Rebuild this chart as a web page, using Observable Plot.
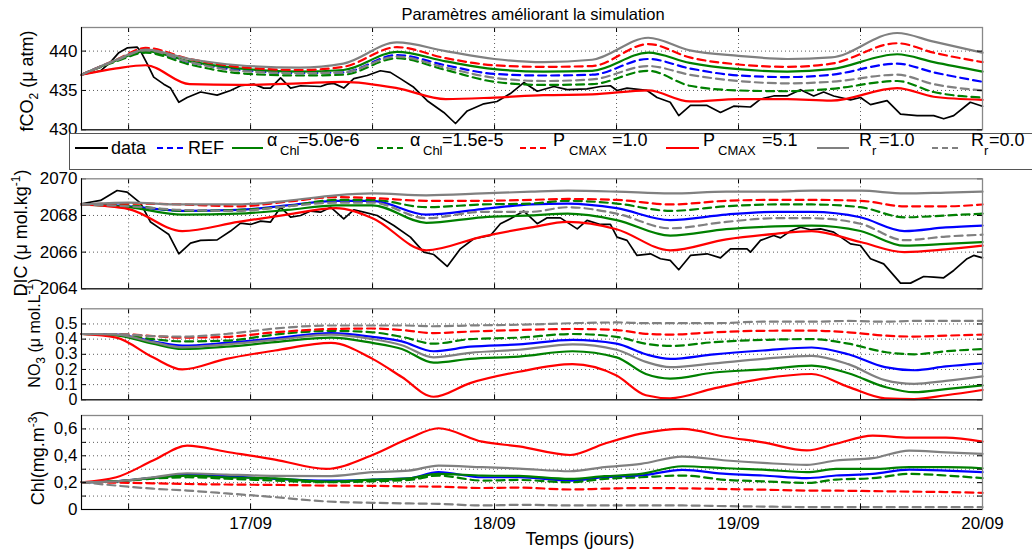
<!DOCTYPE html>
<html><head><meta charset="utf-8">
<script src="https://cdn.jsdelivr.net/npm/d3@7"></script>
<script src="https://cdn.jsdelivr.net/npm/@observablehq/plot@0.6"></script>
<style>
html,body{margin:0;padding:0;background:#fff;}
#chart{position:relative;width:1032px;height:552px;overflow:hidden;background:#fff;}
#chart svg{position:absolute;left:0;top:0;}
</style></head><body><div id="chart"></div>
<script>
// ---------- texts ----------
const titleText = "Paramètres améliorant la simulation";
const xTitle = "Temps (jours)";
const dayTicks = [17, 18, 19, 20];
const dayLabels = ["17/09", "18/09", "19/09", "20/09"];
const halfDays = [16.5, 17, 17.5, 18, 18.5, 19, 19.5];

// ---------- fCO2 panel ----------
const fco2Time = [16.307, 16.45, 16.57, 16.75, 16.95, 17.2, 17.38, 17.6, 17.8, 18.0, 18.2, 18.4, 18.63, 18.8, 19.0, 19.2, 19.38, 19.65, 19.8, 20.0];
const fco2REF   = [437.0, 438.8, 439.9, 438.6, 437.6, 437.2, 437.3, 439.5, 438.2, 437.1, 436.9, 437.0, 439.0, 437.8, 436.9, 436.7, 437.0, 438.4, 437.3, 436.1];
const fco2Chl5  = [437.0, 438.8, 440.0, 438.7, 437.8, 437.4, 437.6, 439.9, 438.7, 437.7, 437.4, 437.5, 439.8, 438.5, 437.7, 437.4, 437.7, 439.6, 438.6, 437.4];
const fco2Chl15 = [437.0, 438.7, 439.8, 438.3, 437.2, 436.9, 437.0, 439.1, 437.6, 436.1, 435.7, 435.8, 437.5, 435.6, 435.0, 434.9, 435.2, 436.2, 434.8, 434.1];
const fco2Pc1   = [437.0, 438.9, 440.4, 439.0, 438.0, 437.6, 438.0, 440.5, 439.1, 438.2, 438.0, 438.1, 440.9, 439.2, 438.3, 438.0, 438.4, 441.0, 439.8, 438.6];
const fco2Pc51  = [437.0, 437.8, 438.2, 435.8, 435.7, 435.9, 436.1, 435.3, 433.9, 434.1, 434.4, 434.5, 435.0, 433.6, 433.9, 433.9, 433.7, 435.3, 434.2, 433.8];
const fco2Rr1   = [437.0, 438.9, 440.2, 439.0, 438.2, 437.9, 438.4, 441.1, 440.0, 439.0, 438.6, 438.9, 441.7, 440.1, 439.4, 439.0, 439.2, 442.3, 441.2, 439.8];
const fco2Rr0   = [437.0, 438.8, 440.1, 438.6, 437.5, 437.2, 437.3, 439.3, 437.9, 436.6, 436.2, 436.4, 438.1, 437.0, 436.2, 435.9, 436.1, 437.0, 435.8, 435.0];
const fco2DataTime = [16.307, 16.385, 16.426, 16.46, 16.494, 16.535, 16.549, 16.576, 16.603, 16.644, 16.672, 16.706, 16.74, 16.795, 16.863, 16.918, 16.959, 17.013, 17.054, 17.082, 17.123, 17.164, 17.205, 17.287, 17.314, 17.341, 17.382, 17.423, 17.478, 17.532, 17.573, 17.614, 17.669, 17.724, 17.792, 17.84, 17.888, 17.956, 18.01, 18.065, 18.12, 18.175, 18.243, 18.298, 18.379, 18.434, 18.475, 18.502, 18.543, 18.625, 18.666, 18.72, 18.755, 18.803, 18.871, 18.926, 18.98, 19.049, 19.09, 19.144, 19.199, 19.254, 19.308, 19.349, 19.39, 19.459, 19.5, 19.541, 19.609, 19.664, 19.732, 19.8, 19.841, 19.882, 19.95, 20.0];
const fco2Data = [437.0, 437.5, 438.6, 439.8, 440.4, 440.5, 440.0, 438.4, 436.7, 435.8, 435.3, 433.5, 434.1, 434.8, 434.4, 435.0, 435.6, 435.8, 435.3, 435.3, 436.6, 435.3, 435.6, 435.5, 435.8, 435.9, 435.3, 436.5, 436.9, 437.5, 437.3, 436.5, 435.4, 433.7, 432.2, 430.8, 432.4, 433.3, 433.6, 434.6, 436.0, 434.9, 435.5, 435.1, 435.2, 435.5, 435.6, 435.0, 435.3, 435.0, 434.1, 433.5, 431.8, 433.1, 433.1, 432.2, 433.0, 432.9, 433.9, 434.3, 434.3, 435.1, 434.3, 434.8, 434.3, 433.8, 434.1, 433.2, 433.7, 432.0, 431.8, 431.8, 431.4, 431.8, 433.5, 433.0];

// ---------- DIC panel ----------
const dicTime = [16.307, 16.5, 16.72, 16.95, 17.15, 17.35, 17.5, 17.72, 17.95, 18.15, 18.3, 18.5, 18.72, 18.95, 19.15, 19.3, 19.5, 19.68, 19.85, 20.0];
const dicREF   = [2068.6, 2068.5, 2068.25, 2068.3, 2068.55, 2068.8, 2068.8, 2068.05, 2068.35, 2068.6, 2068.65, 2068.4, 2067.75, 2068.05, 2068.2, 2068.2, 2067.9, 2067.15, 2067.35, 2067.45];
const dicChl5  = [2068.6, 2068.45, 2068.05, 2068.1, 2068.3, 2068.55, 2068.55, 2067.6, 2067.9, 2068.0, 2068.1, 2067.75, 2066.9, 2067.25, 2067.4, 2067.45, 2067.15, 2066.35, 2066.45, 2066.55];
const dicChl15 = [2068.6, 2068.55, 2068.25, 2068.3, 2068.5, 2068.85, 2068.85, 2068.45, 2068.6, 2068.65, 2068.8, 2068.65, 2068.25, 2068.5, 2068.6, 2068.6, 2068.45, 2067.9, 2068.0, 2068.1];
const dicPc1   = [2068.6, 2068.65, 2068.6, 2068.5, 2068.75, 2069.0, 2068.95, 2068.8, 2068.8, 2068.85, 2068.9, 2068.85, 2068.6, 2068.8, 2068.85, 2068.85, 2068.8, 2068.5, 2068.5, 2068.6];
const dicPc51  = [2068.6, 2068.35, 2067.15, 2067.65, 2068.05, 2068.4, 2067.85, 2066.1, 2066.85, 2067.35, 2067.65, 2067.25, 2066.1, 2066.7, 2067.0, 2067.15, 2066.55, 2066.0, 2066.15, 2066.35];
const dicRr1   = [2068.6, 2068.7, 2068.6, 2068.6, 2068.8, 2069.1, 2069.2, 2069.1, 2069.2, 2069.3, 2069.35, 2069.3, 2069.2, 2069.3, 2069.3, 2069.35, 2069.35, 2069.2, 2069.25, 2069.3];
const dicRr0   = [2068.6, 2068.5, 2068.3, 2068.25, 2068.5, 2068.7, 2068.7, 2067.85, 2068.2, 2068.2, 2068.45, 2068.1, 2067.3, 2067.65, 2067.85, 2067.85, 2067.55, 2066.65, 2066.85, 2066.95];
const dicDataTime = [16.307, 16.385, 16.453, 16.494, 16.549, 16.59, 16.631, 16.665, 16.706, 16.754, 16.795, 16.863, 16.918, 16.959, 17.0, 17.041, 17.082, 17.123, 17.164, 17.205, 17.246, 17.287, 17.328, 17.382, 17.423, 17.464, 17.519, 17.587, 17.655, 17.71, 17.751, 17.806, 17.86, 17.915, 17.983, 18.024, 18.065, 18.12, 18.175, 18.216, 18.27, 18.339, 18.379, 18.434, 18.475, 18.502, 18.543, 18.584, 18.639, 18.68, 18.72, 18.755, 18.803, 18.871, 18.926, 18.967, 19.035, 19.049, 19.09, 19.144, 19.172, 19.213, 19.254, 19.295, 19.336, 19.39, 19.459, 19.5, 19.541, 19.595, 19.664, 19.705, 19.759, 19.8, 19.841, 19.882, 19.937, 19.964, 20.0];
const dicData = [2068.64, 2068.82, 2069.36, 2069.27, 2068.67, 2067.64, 2067.27, 2066.96, 2065.91, 2066.49, 2066.64, 2066.67, 2067.15, 2067.58, 2067.51, 2067.69, 2067.64, 2068.45, 2067.91, 2068.0, 2068.24, 2068.18, 2068.45, 2067.82, 2068.31, 2068.18, 2068.0, 2067.45, 2066.82, 2066.0, 2065.87, 2065.22, 2066.18, 2066.73, 2066.91, 2067.55, 2067.82, 2068.24, 2067.55, 2067.87, 2067.87, 2067.27, 2067.73, 2067.51, 2067.51, 2066.82, 2066.64, 2065.82, 2065.91, 2065.64, 2065.55, 2065.04, 2065.82, 2065.91, 2065.69, 2066.18, 2066.18, 2066.0, 2066.64, 2066.91, 2066.78, 2067.15, 2067.36, 2067.22, 2067.27, 2067.09, 2066.45, 2066.36, 2065.64, 2065.36, 2064.31, 2064.31, 2064.67, 2064.64, 2064.6, 2065.0, 2065.64, 2065.82, 2065.69];

// ---------- NO3 panel ----------
const no3Time = [16.307, 16.45, 16.6, 16.72, 16.9, 17.1, 17.33, 17.5, 17.62, 17.75, 17.9, 18.1, 18.32, 18.5, 18.62, 18.72, 18.9, 19.1, 19.3, 19.45, 19.6, 19.72, 19.85, 20.0];
const no3REF   = [0.434, 0.43, 0.386, 0.357, 0.375, 0.405, 0.44, 0.415, 0.385, 0.32, 0.35, 0.365, 0.395, 0.37, 0.30, 0.27, 0.30, 0.325, 0.345, 0.30, 0.215, 0.195, 0.22, 0.24];
const no3Chl5  = [0.434, 0.425, 0.37, 0.335, 0.35, 0.38, 0.41, 0.375, 0.335, 0.245, 0.27, 0.285, 0.32, 0.28, 0.17, 0.14, 0.18, 0.2, 0.225, 0.175, 0.085, 0.05, 0.07, 0.095];
const no3Chl15 = [0.434, 0.43, 0.40, 0.385, 0.39, 0.43, 0.455, 0.445, 0.415, 0.37, 0.40, 0.41, 0.434, 0.415, 0.37, 0.355, 0.38, 0.395, 0.40, 0.37, 0.315, 0.30, 0.32, 0.335];
const no3Pc1   = [0.434, 0.434, 0.42, 0.41, 0.415, 0.445, 0.467, 0.47, 0.46, 0.44, 0.45, 0.46, 0.467, 0.46, 0.435, 0.43, 0.445, 0.455, 0.456, 0.445, 0.423, 0.417, 0.423, 0.43];
const no3Pc51  = [0.434, 0.41, 0.28, 0.2, 0.27, 0.325, 0.375, 0.27, 0.15, 0.02, 0.11, 0.185, 0.235, 0.16, 0.03, 0.01, 0.075, 0.14, 0.17, 0.085, 0.01, 0.005, 0.03, 0.065];
const no3Rr1   = [0.434, 0.43, 0.38, 0.346, 0.365, 0.395, 0.43, 0.40, 0.36, 0.28, 0.31, 0.33, 0.365, 0.33, 0.25, 0.215, 0.24, 0.27, 0.29, 0.235, 0.13, 0.105, 0.125, 0.155];
const no3Rr0   = [0.434, 0.434, 0.42, 0.417, 0.434, 0.47, 0.49, 0.49, 0.49, 0.485, 0.49, 0.495, 0.505, 0.51, 0.505, 0.505, 0.505, 0.515, 0.515, 0.52, 0.515, 0.52, 0.52, 0.52];

// ---------- Chl panel ----------
const chlTime = [16.307, 16.45, 16.6, 16.74, 16.9, 17.1, 17.31, 17.5, 17.65, 17.77, 17.95, 18.1, 18.31, 18.45, 18.6, 18.77, 18.95, 19.1, 19.28, 19.4, 19.55, 19.7, 19.85, 20.0];
const chlREF   = [0.203, 0.21, 0.235, 0.258, 0.248, 0.228, 0.215, 0.222, 0.232, 0.278, 0.24, 0.24, 0.215, 0.24, 0.253, 0.295, 0.265, 0.253, 0.233, 0.253, 0.265, 0.297, 0.29, 0.278];
const chlChl5  = [0.203, 0.21, 0.235, 0.253, 0.24, 0.232, 0.208, 0.222, 0.232, 0.265, 0.253, 0.25, 0.228, 0.248, 0.265, 0.322, 0.307, 0.297, 0.278, 0.302, 0.302, 0.315, 0.315, 0.307];
const chlChl15 = [0.203, 0.21, 0.23, 0.24, 0.23, 0.215, 0.203, 0.21, 0.22, 0.253, 0.215, 0.22, 0.203, 0.228, 0.24, 0.253, 0.22, 0.21, 0.198, 0.223, 0.233, 0.265, 0.253, 0.233];
const chlPc1   = [0.203, 0.2, 0.195, 0.19, 0.186, 0.183, 0.178, 0.176, 0.172, 0.17, 0.16, 0.163, 0.149, 0.155, 0.16, 0.158, 0.152, 0.148, 0.141, 0.14, 0.137, 0.133, 0.13, 0.124];
const chlPc51  = [0.203, 0.24, 0.364, 0.476, 0.43, 0.372, 0.302, 0.406, 0.53, 0.605, 0.505, 0.47, 0.406, 0.49, 0.565, 0.60, 0.54, 0.5, 0.44, 0.49, 0.55, 0.535, 0.535, 0.505];
const chlRr1   = [0.203, 0.21, 0.24, 0.27, 0.26, 0.25, 0.248, 0.278, 0.29, 0.327, 0.315, 0.305, 0.285, 0.315, 0.34, 0.394, 0.365, 0.347, 0.332, 0.365, 0.382, 0.439, 0.426, 0.414];
const chlRr0   = [0.203, 0.178, 0.155, 0.141, 0.12, 0.092, 0.06, 0.05, 0.045, 0.042, 0.03, 0.035, 0.03, 0.03, 0.03, 0.03, 0.025, 0.022, 0.018, 0.018, 0.018, 0.017, 0.017, 0.017];

// ---------- styles ----------
const FONT = '"Liberation Sans", Arial, Helvetica, sans-serif';
const W = 1032, H = 552, X0 = 81, X1 = 982;
const DASH = "8,5";
const style = {
  data:  {color: "#000000", width: 1.7, dash: null},
  REF:   {color: "#0000ff", width: 2.2, dash: DASH},
  Chl5:  {color: "#008000", width: 2.2, dash: null},
  Chl15: {color: "#008000", width: 2.2, dash: DASH},
  Pc1:   {color: "#ff0000", width: 2.2, dash: DASH},
  Pc51:  {color: "#ff0000", width: 2.2, dash: null},
  Rr1:   {color: "#808080", width: 2.2, dash: null},
  Rr0:   {color: "#808080", width: 2.2, dash: DASH}
};

function lineMark(times, values, key, opts = {}) {
  const s = style[key];
  const rows = times.map((t, i) => ({t, v: values[i]}));
  const o = {x: "t", y: "v", stroke: s.color, strokeWidth: s.width, curve: key === "data" ? "linear" : "monotone-x"};
  const dash = opts.solid ? null : s.dash;
  if (dash) o.strokeDasharray = dash;
  return Plot.line(rows, o);
}

function panel({top, bottom, yDomain, yTicks, yFormat, yGrid, yMarks, lines, xAxis, tickFont = "17px"}) {
  const ph = bottom - top, pw = X1 - X0;
  const marks = [
    Plot.ruleY(yGrid, {stroke: "#333", strokeWidth: 0.8, strokeDasharray: "1,3"}),
    Plot.ruleX(halfDays, {stroke: "#333", strokeWidth: 0.8, strokeDasharray: "1,3"}),
    ...lines,
    Plot.ruleX(halfDays, {stroke: "#000", insetBottom: ph - 5}),
    Plot.ruleX(halfDays, {stroke: "#000", insetTop: ph - 5}),
    Plot.ruleY(yMarks, {stroke: "#000", insetRight: pw - 5}),
    Plot.ruleY(yMarks, {stroke: "#000", insetLeft: pw - 5}),
    Plot.frame({stroke: "#888", strokeWidth: 1.3}),
    Plot.ruleX([16.307], {stroke: "#000"}),
    Plot.ruleY([yDomain[0]], {stroke: "#000"})
  ];
  return Plot.plot({
    width: W, height: H,
    marginLeft: X0, marginRight: W - X1, marginTop: top, marginBottom: H - bottom,
    style: {background: "transparent", fontFamily: FONT, fontSize: tickFont, color: "#000", overflow: "visible"},
    x: {domain: [16.307, 20], axis: xAxis ? "bottom" : null, ticks: dayTicks,
        tickFormat: d => dayLabels[dayTicks.indexOf(d)], tickSize: 0, tickPadding: 7, label: null},
    y: {domain: yDomain, ticks: yTicks, tickFormat: yFormat, tickSize: 0, tickPadding: 4, label: null},
    marks
  });
}

const chart = document.getElementById("chart");
const order = ["REF", "Chl5", "Chl15", "Pc1", "Pc51", "Rr1", "Rr0"];

chart.append(panel({
  top: 27, bottom: 129.3, yDomain: [430, 443], yTicks: [430, 435, 440], yFormat: d => String(d),
  yGrid: [435, 440], yMarks: [430, 435, 440],
  lines: [lineMark(fco2DataTime, fco2Data, "data"),
          ...[fco2REF, fco2Chl5, fco2Chl15, fco2Pc1, fco2Pc51, fco2Rr1, fco2Rr0].map((v, i) => lineMark(fco2Time, v, order[i]))]
}));
chart.append(panel({
  top: 178.3, bottom: 288.3, yDomain: [2064, 2070], yTicks: [2064, 2066, 2068, 2070], yFormat: d => String(d),
  yGrid: [2066, 2068], yMarks: [2064, 2066, 2068, 2070],
  lines: [lineMark(dicDataTime, dicData, "data"),
          ...[dicREF, dicChl5, dicChl15, dicPc1, dicPc51, dicRr1, dicRr0].map((v, i) => lineMark(dicTime, v, order[i], {solid: i === 0}))]
}));
chart.append(panel({
  top: 308.3, bottom: 399.3, yDomain: [0, 0.6], yTicks: [0, 0.1, 0.2, 0.3, 0.4, 0.5], yFormat: d => String(d),
  yGrid: [0.1, 0.2, 0.3, 0.4, 0.5], yMarks: [0, 0.1, 0.2, 0.3, 0.4, 0.5], tickFont: "16px",
  lines: [no3REF, no3Chl5, no3Chl15, no3Pc1, no3Pc51, no3Rr1, no3Rr0].map((v, i) => lineMark(no3Time, v, order[i], {solid: i === 0}))
}));
chart.append(panel({
  top: 415, bottom: 509, yDomain: [0, 0.7], yTicks: [0, 0.2, 0.4, 0.6], yFormat: d => String(d).replace(".", ","),
  yGrid: [0.1, 0.2, 0.3, 0.4, 0.5, 0.6], yMarks: [0.1, 0.2, 0.3, 0.4, 0.5, 0.6],
  lines: [chlREF, chlChl5, chlChl15, chlPc1, chlPc51, chlRr1, chlRr0].map((v, i) => lineMark(chlTime, v, order[i], {solid: i === 0})),
  xAxis: true
}));

// ---------- overlay: title, axis titles, legend ----------
const ov = d3.select("#chart").append("svg").attr("width", W).attr("height", H)
  .style("font-family", FONT).attr("fill", "#000");
ov.append("text").attr("x", 533).attr("y", 20).attr("text-anchor", "middle").attr("font-size", 16.5).text(titleText);
ov.append("text").attr("x", 580).attr("y", 545).attr("text-anchor", "middle").attr("font-size", 18).text(xTitle);

const yTitles = [
  {x: 33, y: 81, fs: 18, parts: [["fCO", ""], ["2", "sub"], [" (μ atm)", ""]]},
  {x: 27, y: 233, fs: 18, parts: [["DIC (μ mol.kg", ""], ["-1", "sup"], [")", ""]]},
  {x: 40, y: 333, fs: 16, parts: [["NO", ""], ["3", "sub"], [" (μ mol.L", ""], ["-1", "sup"], [")", ""]]},
  {x: 44, y: 458, fs: 18, parts: [["Chl(mg.m", ""], ["-3", "sup"], [")", ""]]}
];
for (const yt of yTitles) {
  const t = ov.append("text").attr("transform", `translate(${yt.x},${yt.y}) rotate(-90)`)
    .attr("text-anchor", "middle").attr("font-size", yt.fs);
  let shift = 0;
  for (const [s, k] of yt.parts) {
    const target = k === "sub" ? 5 : k === "sup" ? -7 : 0;
    t.append("tspan").attr("dy", target - shift).attr("font-size", k ? 12 : yt.fs).text(s);
    shift = target;
  }
}

// legend
const lg = ov.append("g");
lg.append("rect").attr("x", 69.5).attr("y", 133.5).attr("width", 1000).attr("height", 36)
  .attr("fill", "#fff").attr("stroke", "#555");
const legendItems = [
  {key: "data", x1: 75, x2: 108, text: [["data", 111, 154, 18]]},
  {key: "REF", x1: 157, x2: 185, text: [["REF", 188, 154, 18]]},
  {key: "Chl5", x1: 232, x2: 263, text: [["α", 267, 146, 18], ["Chl", 280, 155, 13], ["=5.0e-6", 298, 146, 18]]},
  {key: "Chl15", x1: 377, x2: 407, text: [["α", 410, 146, 18], ["Chl", 423, 155, 13], ["=1.5e-5", 442, 146, 18]]},
  {key: "Pc1", x1: 520, x2: 549, text: [["P", 553, 146, 18], ["CMAX", 569, 155, 13], ["=1.0", 612, 146, 18]]},
  {key: "Pc51", x1: 666, x2: 699, text: [["P", 703, 146, 18], ["CMAX", 718, 155, 13], ["=5.1", 762, 146, 18]]},
  {key: "Rr1", x1: 817, x2: 849, text: [["R", 859, 146, 18], ["r", 872, 155, 13], ["=1.0", 879, 146, 18]]},
  {key: "Rr0", x1: 932, x2: 962, text: [["R", 971, 146, 18], ["r", 984, 155, 13], ["=0.0", 989, 146, 18]]}
];
for (const it of legendItems) {
  const s = style[it.key];
  const ln = lg.append("line").attr("x1", it.x1).attr("x2", it.x2).attr("y1", 148).attr("y2", 148)
    .attr("stroke", s.color).attr("stroke-width", 2);
  if (s.dash) ln.attr("stroke-dasharray", "6,4");
  const t = lg.append("text");
  for (const [str, x, y, fs] of it.text) t.append("tspan").attr("x", x).attr("y", y).attr("font-size", fs).text(str);
}
</script></body></html>
